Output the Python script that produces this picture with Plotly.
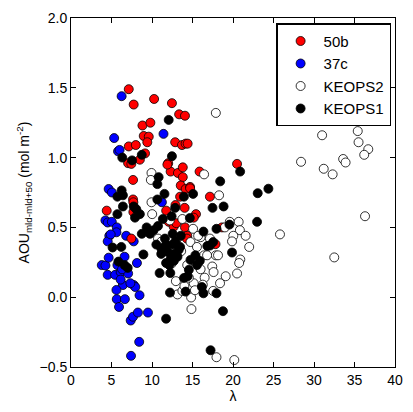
import plotly.graph_objects as go

# 50b (red)
red_x = [7.13, 7.74, 10.26, 12.46, 13.35, 14.07, 8.82, 9.8, 8.98, 9.6, 9.42, 7.13, 8.0, 12.86, 13.7,
         14.15, 14.4, 9.14, 7.05, 7.45, 8.5, 12.0, 12.3, 13.2, 13.8, 13.8, 13.55, 14.15, 14.7, 15.87,
         20.5, 7.66, 7.66, 7.7, 17.15, 13.47, 14.03, 15.43, 15.15, 11.75, 12.07, 12.67, 14.07, 14.35,
         4.41, 7.45, 18.64, 17.84, 14.7, 7.7, 13.0, 11.9, 12.9, 14.3]
red_y = [1.49, 1.38, 1.42, 1.39, 1.31, 1.30, 1.23, 1.25, 1.155, 1.15, 1.11, 1.08, 1.09, 1.11, 1.09,
         1.10, 1.10, 1.03, 0.96, 0.955, 0.985, 0.96, 0.90, 0.89, 0.93, 0.86, 0.80, 0.775, 0.79, 0.90,
         0.955, 0.84, 0.70, 0.68, 0.72, 0.72, 0.64, 0.595, 0.57, 0.62, 0.54, 0.505, 0.50, 0.44,
         0.62, 0.42, 0.50, 0.38, 0.78, 0.61, 0.53, 0.95, 0.66, 0.42]

# 37c (blue)
blue_x = [6.25, 5.33, 11.42, 5.81, 6.0, 4.65, 5.05, 11.22, 4.25, 4.53, 5.04, 5.65, 5.61, 4.73, 4.53,
          6.81, 7.74, 3.8, 4.25, 4.65, 4.53, 5.45, 6.61, 8.14, 5.73, 6.13, 7.05, 6.41, 7.74, 7.94,
          5.61, 5.65, 6.65, 5.93, 8.46, 6.13, 7.33, 7.37, 7.66, 8.26, 9.5, 8.42, 7.41, 4.9, 6.3]
blue_y = [1.44, 1.14, 1.17, 1.045, 1.055, 0.775, 0.75, 0.68, 0.55, 0.535, 0.54, 0.50, 0.465, 0.44, 0.40,
          0.44, 0.40, 0.23, 0.227, 0.283, 0.16, 0.16, 0.29, 0.245, 0.23, 0.18, 0.17, 0.087, 0.087, 0.073,
          0.052, -0.014, -0.014, -0.07, 0.014, 0.126, 0.10, -0.167, -0.14, -0.11, -0.11, -0.32, -0.42, 0.45, 0.20]

# KEOPS2 (white)
k2_x = [17.88, 31.0, 35.4, 35.5, 36.7, 36.2, 28.4, 31.2, 32.3, 33.6, 33.9, 36.3, 25.8, 32.5,
        16.43, 18.28, 9.94, 9.86, 9.94, 10.02, 13.75, 19.6, 20.7, 20.85, 20.04, 19.88, 21.56, 22.0,
        20.9, 20.76, 20.5, 19.1, 17.88, 18.15, 17.44, 17.6, 17.55, 16.5, 16.43, 16.27, 14.83, 14.87,
        17.96, 20.16, 15.07, 14.75, 16.0, 13.1, 10.74, 12.95, 13.15, 13.75, 15.15, 14.55, 14.35, 15.55,
        15.7, 17.15, 12.4, 11.2, 13.6, 15.3, 16.8, 12.2, 14.0, 16.0, 19.0, 18.4]
k2_y = [1.32, 1.16, 1.19, 1.11, 1.06, 1.02, 0.97, 0.92, 0.88, 0.99, 0.965, 0.58, 0.45, 0.285,
        0.88, 0.73, 0.89, 0.84, 0.68, 0.595, 0.56, 0.54, 0.54, 0.48, 0.44, 0.40, 0.44, 0.36,
        0.27, 0.245, 0.17, 0.15, 0.30, 0.30, 0.22, 0.18, 0.045, 0.14, 0.30, 0.09, -0.002, -0.085,
        -0.43, -0.45, 0.49, 0.395, 0.43, 0.42, 0.42, 0.115, 0.02, 0.045, 0.10, 0.14, 0.23, 0.36,
        0.44, 0.42, 0.24, 0.40, 0.33, 0.05, 0.30, 0.55, 0.08, 0.20, 0.50, 0.10]

# KEOPS1 (black)
k1_x = [12.06, 6.33, 7.54, 8.74, 12.46, 20.88, 18.42, 23.05, 24.37, 22.97, 10.82, 10.66, 6.25, 5.73,
        6.41, 11.54, 15.07, 13.94, 10.66, 7.74, 8.06, 17.47, 18.84, 6.41, 5.73, 8.5, 7.9, 12.86, 12.42,
        11.34, 14.67, 16.35, 17.96, 19.56, 10.74, 9.34, 8.74, 9.74, 12.55, 5.13, 6.21, 10.54, 11.14,
        11.74, 12.55, 13.47, 11.14, 11.94, 12.34, 12.74, 13.15, 12.14, 11.74, 8.94, 5.85, 6.61, 14.75,
        15.35, 15.55, 16.83, 17.15, 17.55, 19.88, 10.94, 12.26, 13.95, 14.55, 12.22, 14.15, 16.16,
        16.35, 17.96, 18.76, 11.74, 17.23, 13.55, 11.6, 12.9, 13.3, 10.2, 14.4, 15.9, 7.0, 11.3, 12.7]
k1_y = [1.27, 1.0, 0.98, 1.02, 1.01, 0.90, 0.83, 0.745, 0.777, 0.54, 0.86, 0.81, 0.765, 0.72,
        0.73, 0.74, 0.74, 0.72, 0.70, 0.65, 0.63, 0.64, 0.65, 0.65, 0.595, 0.595, 0.57, 0.64, 0.58,
        0.56, 0.567, 0.47, 0.49, 0.52, 0.51, 0.50, 0.454, 0.454, 0.454, 0.356, 0.36, 0.377, 0.35,
        0.377, 0.377, 0.36, 0.31, 0.325, 0.28, 0.31, 0.29, 0.23, 0.245, 0.306, 0.255, 0.23, 0.267,
        0.30, 0.23, 0.367, 0.37, 0.395, 0.32, 0.173, 0.173, 0.138, 0.196, 0.033, 0.04, 0.073,
        0.028, 0.028, -0.10, -0.154, -0.38, 0.44, 0.42, 0.40, 0.34, 0.48, 0.15, 0.26, 0.21, 0.33, 0.26]

x_ticks = [0, 5, 10, 15, 20, 25, 30, 35, 40]
y_ticks = [-0.5, 0.0, 0.5, 1.0, 1.5, 2.0]
y_tick_text = ["\u22120.5", "0.0", "0.5", "1.0", "1.5", "2.0"]

mline = dict(color="black", width=0.8)
msize = 9
fig = go.Figure()
fig.add_trace(go.Scatter(x=blue_x, y=blue_y, mode="markers", name="37c", legendrank=2,
                         marker=dict(size=msize, color="#0000ff", line=mline)))
fig.add_trace(go.Scatter(x=red_x, y=red_y, mode="markers", name="50b", legendrank=1,
                         marker=dict(size=msize, color="#ff0000", line=mline)))
fig.add_trace(go.Scatter(x=k2_x, y=k2_y, mode="markers", name="KEOPS2", legendrank=3,
                         marker=dict(size=msize, color="#ffffff", line=mline)))
fig.add_trace(go.Scatter(x=k1_x, y=k1_y, mode="markers", name="KEOPS1", legendrank=4,
                         marker=dict(size=msize, color="#000000", line=mline)))

axis_common = dict(showline=True, linecolor="black", linewidth=1, mirror="ticks", ticks="inside",
                   ticklen=5, tickcolor="black", showgrid=False, zeroline=False,
                   tickfont=dict(size=14, color="black"))
fig.update_layout(
    width=413, height=412,
    margin=dict(l=71, r=10, t=15, b=41),
    paper_bgcolor="white", plot_bgcolor="white",
    font=dict(family="Liberation Sans, Arial, sans-serif", color="black"),
    xaxis=dict(range=[0, 40], tickvals=x_ticks, title=dict(text="λ", font=dict(size=14), standoff=4),
               **axis_common),
    yaxis=dict(range=[-0.5, 2.0], tickvals=y_ticks, ticktext=y_tick_text,
               title=dict(text="AOU<sub>mld-mld+50</sub> (mol m<sup>-2</sup>)", font=dict(size=14), standoff=6),
               **axis_common),
    legend=dict(x=0.988, y=0.985, xanchor="right", yanchor="top", bordercolor="black", borderwidth=1.5,
                bgcolor="white", font=dict(size=15), itemwidth=36),
    showlegend=True,
)
fig.write_html("out.html")
